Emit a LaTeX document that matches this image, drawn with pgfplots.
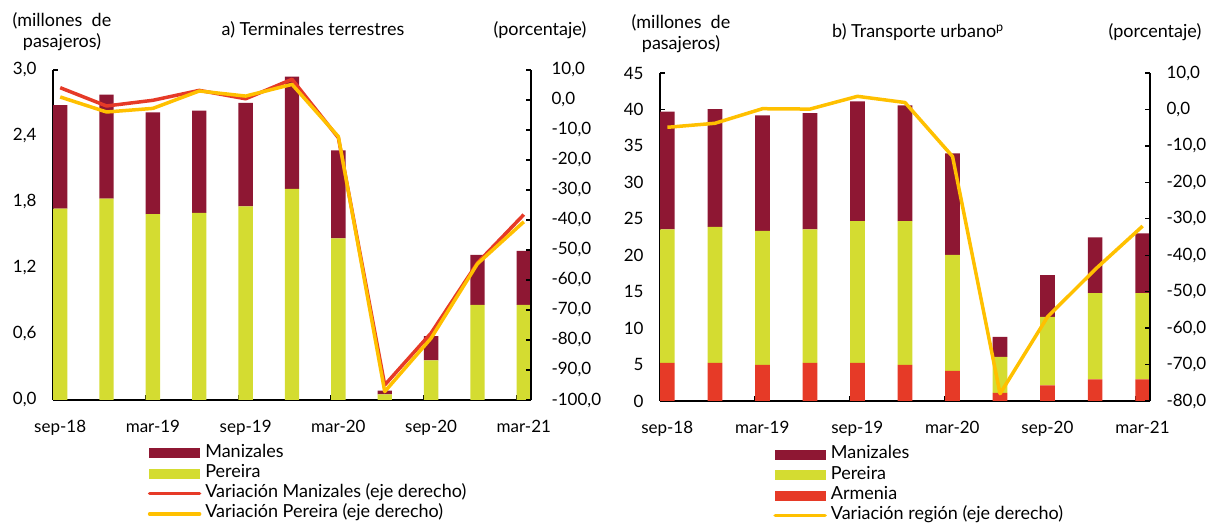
\documentclass[border=0pt]{standalone}
\usepackage{pgfplots}
\pgfplotsset{compat=1.18}
\usepackage{fontspec}
\setmainfont{Lato}

\definecolor{manz}{RGB}{142,23,51}
\definecolor{pere}{RGB}{212,220,49}
\definecolor{arm}{RGB}{230,58,39}
\definecolor{lred}{RGB}{230,58,39}
\definecolor{lgold}{RGB}{255,192,0}

\newcommand{\fs}{\fontsize{17bp}{20bp}\selectfont}
\newcommand{\fl}{\fontsize{18bp}{21bp}\selectfont}

\pgfplotsset{
  base/.style={
    scale only axis, anchor=south west,
    xmin=-0.155, xmax=10.155,
    tick align=inside, major tick length=5bp,
    axis line style={line width=1.6bp},
    tick style={line width=1.4bp, black},
    tick label style={font=\fs},
    /pgf/number format/assume math mode=true,
    /pgf/number format/use comma,
    /pgf/number format/fixed,
    /pgf/number format/fixed zerofill,
    /pgf/number format/precision=1,
  },
  bars/.style={
    base, ybar stacked, bar width=0.31,
    axis y line*=left, axis x line*=bottom,
    xtick={-0.155,1.845,3.845,5.845,7.845,9.845},
    xticklabels={sep-18,mar-19,sep-19,mar-20,sep-20,mar-21},
    xticklabel style={xshift=7.2bp, yshift=-17bp},
    yticklabel style={xshift=-13bp},
  },
  lines/.style={
    base, axis y line*=right, axis x line=none,
    yticklabel style={xshift=17bp},
    legend cell align=left,
    legend style={draw=none, fill=none, inner sep=0pt, row sep=0.3bp,
      column sep=2bp, font=\fl,
      nodes={inner sep=2bp, text height=12bp, text depth=4bp}},
  },
  barleg/.style={legend image code/.code={\fill[#1] (0bp,-4.5bp) rectangle (50bp,4.5bp);}},
  lineleg/.style={legend image code/.code={\draw[#1] (0bp,0bp) -- (50bp,0bp);}},
}

\begin{document}
\begin{tikzpicture}[x=1bp,y=1bp,font=\fl]
\path[use as bounding box] (0,0) rectangle (1216,523);

% ---- a) Terminales terrestres
\begin{axis}[bars, at={(53bp,123bp)}, width=478bp, height=330bp,
  ymin=0, ymax=3, ytick={0,0.6,1.2,1.8,2.4,3.0}]
\addplot[fill=pere, draw=none] coordinates {(0,1.74) (1,1.83) (2,1.69) (3,1.70) (4,1.76) (5,1.92) (6,1.47) (7,0.05) (8,0.36) (9,0.865) (10,0.865)};
\addplot[fill=manz, draw=none] coordinates {(0,0.94) (1,0.945) (2,0.925) (3,0.93) (4,0.94) (5,1.02) (6,0.80) (7,0.035) (8,0.22) (9,0.455) (10,0.49)};
\end{axis}
\begin{axis}[lines, at={(53bp,123bp)}, width=478bp, height=330bp,
  ymin=-100, ymax=10, ytick={-100,-90,-80,-70,-60,-50,-40,-30,-20,-10,0,10},
  legend style={at={(axis description cs:0.198,-0.13)}, anchor=north west}]
\addlegendimage{barleg=manz}
\addlegendentry{Manizales}
\addlegendimage{barleg=pere}
\addlegendentry{Pereira}
\addplot[lred, line width=3.5bp, line join=round, lineleg={lred, line width=3.5bp, line cap=round}] coordinates {(0,4.1) (1,-2.0) (2,-0.1) (3,3.2) (4,0.4) (5,6.9) (6,-12.6) (7,-95) (8,-77.7) (9,-54.3) (10,-38.2)};
\addlegendentry{Variación Manizales (eje derecho)}
\addplot[lgold, line width=3.5bp, line join=round, lineleg={lgold, line width=3.5bp, line cap=round}] coordinates {(0,1.0) (1,-4.0) (2,-2.8) (3,3.0) (4,1.3) (5,5.2) (6,-12.2) (7,-97.2) (8,-79.4) (9,-54.6) (10,-40.6)};
\addlegendentry{Variación Pereira (eje derecho)}
\end{axis}

\node[align=center] at (62,491) {(millones\ \ de\\pasajeros)};
\node at (313,493) {a) Terminales terrestres};
\node at (540,493) {(porcentaje)};

% ---- b) Transporte urbano
\begin{axis}[bars, at={(660bp,122bp)}, width=490bp, height=328bp,
  ymin=0, ymax=45, ytick={0,5,...,45},
  yticklabel style={/pgf/number format/precision=0}]
\addplot[fill=arm, draw=none] coordinates {(0,5.22) (1,5.22) (2,4.95) (3,5.22) (4,5.22) (5,4.95) (6,4.12) (7,1.1) (8,2.15) (9,2.98) (10,2.98)};
\addplot[fill=pere, draw=none] coordinates {(0,18.34) (1,18.66) (2,18.38) (3,18.34) (4,19.44) (5,19.71) (6,15.91) (7,4.95) (8,9.4) (9,11.82) (10,11.82)};
\addplot[fill=manz, draw=none] coordinates {(0,16.14) (1,16.17) (2,15.87) (3,15.94) (4,16.44) (5,15.9) (6,13.93) (7,2.75) (8,5.73) (9,7.66) (10,8.2)};
\end{axis}
\begin{axis}[lines, at={(660bp,122bp)}, width=490bp, height=328bp,
  ymin=-80, ymax=10, ytick={-80,-70,-60,-50,-40,-30,-20,-10,0,10},
  yticklabel style={xshift=-4bp},
  legend style={at={(axis description cs:0.231,-0.133)}, anchor=north west}]
\addlegendimage{barleg=manz}
\addlegendentry{Manizales}
\addlegendimage{barleg=pere}
\addlegendentry{Pereira}
\addlegendimage{barleg=arm}
\addlegendentry{Armenia}
\addplot[lgold, line width=3.5bp, line join=round, lineleg={lgold, line width=3.5bp, line cap=round}] coordinates {(0,-4.9) (1,-3.8) (2,0.2) (3,0.1) (4,3.6) (5,1.9) (6,-12.9) (7,-78.0) (8,-56.9) (9,-43.9) (10,-32.0)};
\addlegendentry{Variación región (eje derecho)}
\end{axis}

\node[align=center] at (681,489) {(millones\ \ de\\pasajeros)};
\node at (918,491) {b) Transporte urbano\textsuperscript{p}};
\node at (1155,491) {(porcentaje)};
\end{tikzpicture}
\end{document}
